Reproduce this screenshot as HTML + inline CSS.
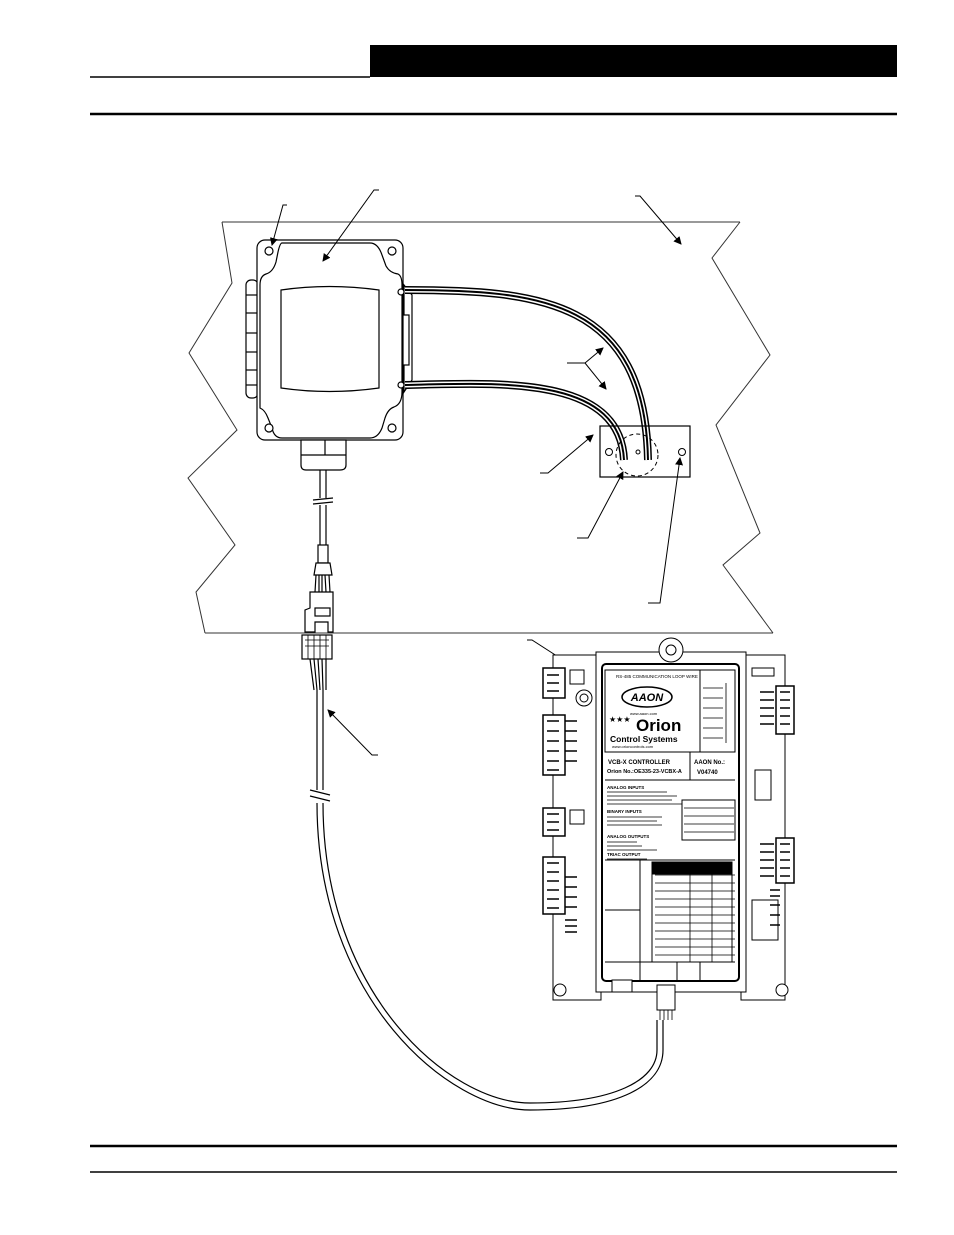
<!DOCTYPE html>
<html><head><style>
html,body{margin:0;padding:0;background:#fff;}
svg{display:block;}
text{font-family:"Liberation Sans",sans-serif;}
</style></head><body>
<svg width="954" height="1235" viewBox="0 0 954 1235" xmlns="http://www.w3.org/2000/svg">
<defs>
<marker id="ar" markerWidth="8" markerHeight="8" refX="7" refY="4" orient="auto" markerUnits="userSpaceOnUse"><path d="M0,0 L8,4 L0,8 z" fill="#000"/></marker>
</defs>
<rect x="370" y="45" width="527" height="32" fill="#000"/>
<line x1="90" y1="77" x2="370" y2="77" stroke="#000" stroke-width="1.5"/>
<line x1="90" y1="114" x2="897" y2="114" stroke="#000" stroke-width="2.5"/>
<line x1="90" y1="1146" x2="897" y2="1146" stroke="#000" stroke-width="2.5"/>
<line x1="90" y1="1172" x2="897" y2="1172" stroke="#000" stroke-width="1.5"/>

<g fill="none" stroke="#333" stroke-width="1">
<polyline points="222,222 740,222"/>
<polyline points="222,222 232,283 189,353 237,430 188,478 235,545 196,592 205,633"/>
<polyline points="205,633 773,633"/>
<polyline points="740,222 712,258 770,355 716,425 760,533 723,565 773,633"/>
</g>

<g fill="#fff" stroke="#000" stroke-width="1.2">
<rect x="246" y="280" width="12" height="118" rx="5"/>
<line x1="246" y1="295" x2="258" y2="295"/><line x1="246" y1="313" x2="258" y2="313"/><line x1="246" y1="333" x2="258" y2="333"/><line x1="246" y1="352" x2="258" y2="352"/><line x1="246" y1="370" x2="258" y2="370"/><line x1="246" y1="385" x2="258" y2="385"/>
<path d="M404,285 L412,295 L412,380 L404,392 z"/>
<rect x="400" y="315" width="9" height="50"/>
<rect x="257" y="240" width="146" height="200" rx="8"/>
<path d="M282,243 L370,243 Q378,243 382,255 L386,266 Q390,273 398,274 Q402,276 402,285 L402,392 Q402,404 394,407 Q388,409 385,418 L382,428 Q378,438 370,438 L282,438 Q274,438 272,428 L268,418 Q265,410 260,408 Q260,400 260,392 L260,285 Q260,276 266,274 Q273,272 276,262 L278,252 Q280,243 282,243 z"/>
<path d="M281,290 Q329,283 379,290 L379,388 Q329,395 281,388 z"/>
<circle cx="269" cy="251" r="4"/><circle cx="392" cy="251" r="4"/><circle cx="269" cy="428" r="4"/><circle cx="392" cy="428" r="4"/>
<circle cx="401" cy="292" r="3"/><circle cx="401" cy="385" r="3"/>
<path d="M301,440 L346,440 L346,465 Q346,470 340,470 L306,470 Q301,470 301,465 z"/>
<line x1="301" y1="455" x2="346" y2="455"/><line x1="325" y1="440" x2="325" y2="455"/>
</g>
<g fill="none">
<path d="M405,290 C540,290 645,300 648,460" stroke="#000" stroke-width="8"/>
<path d="M405,290 C540,290 645,300 648,460" stroke="#fff" stroke-width="5"/>
<path d="M405,290 C540,290 645,300 648,460" stroke="#000" stroke-width="2"/>
<path d="M405,385 C500,383 620,375 624,460" stroke="#000" stroke-width="8"/>
<path d="M405,385 C500,383 620,375 624,460" stroke="#fff" stroke-width="5"/>
<path d="M405,385 C500,383 620,375 624,460" stroke="#000" stroke-width="2"/>
</g>
<rect x="600" y="426" width="90" height="51" fill="none" stroke="#000" stroke-width="1.2"/>
<circle cx="637" cy="455" r="21" fill="none" stroke="#000" stroke-dasharray="4,3"/>
<circle cx="609" cy="452" r="3.5" fill="none" stroke="#000"/><circle cx="682" cy="452" r="3.5" fill="none" stroke="#000"/><circle cx="638" cy="452" r="2" fill="none" stroke="#000"/>

<g stroke="#000" fill="none" stroke-width="1">
<polyline points="287,205 283,205 272,245" marker-end="url(#ar)"/>
<polyline points="379,190 374,190 323,261" marker-end="url(#ar)"/>
<polyline points="635,196 640,196 681,244" marker-end="url(#ar)"/>
<polyline points="567,363 585,363 603,348" marker-end="url(#ar)"/>
<polyline points="585,363 606,389" marker-end="url(#ar)"/>
<polyline points="540,473 548,473 593,435" marker-end="url(#ar)"/>
<polyline points="577,538 588,538 623,472" marker-end="url(#ar)"/>
<polyline points="648,603 660,603 680,458" marker-end="url(#ar)"/>
<polyline points="527,640 532,640 560,658"/>
<line x1="560" y1="658" x2="617" y2="705" marker-end="url(#ar)"/>
<polyline points="378,755 372,755 328,710" marker-end="url(#ar)"/>
</g>

<g stroke="#000" fill="none" stroke-width="1.2">
<line x1="320" y1="470" x2="320" y2="498"/><line x1="326" y1="470" x2="326" y2="498"/>
<line x1="320" y1="505" x2="320" y2="545"/><line x1="326" y1="505" x2="326" y2="545"/>
<line x1="313" y1="500" x2="333" y2="498"/><line x1="313" y1="504" x2="333" y2="502"/>
<rect x="318" y="545" width="10" height="18" fill="#fff"/>
<path d="M316,563 L330,563 L332,575 L314,575 z" fill="#fff"/>
<path d="M316,575 L315,592 M319,575 L319,592 M322,575 L322,592 M325,575 L326,592 M329,575 L330,592"/>
<path d="M310,592 L333,592 L333,632 L328,632 L328,622 L315,622 L315,632 L305,632 L305,610 L310,608 z" fill="#fff"/>
<rect x="315" y="608" width="15" height="8"/>
<rect x="302" y="635" width="30" height="24" fill="#fff"/>
<path d="M305,640 L329,640 M305,646 L329,646 M308,635 L308,659 M314,635 L314,659 M320,635 L320,659 M326,635 L326,659" stroke-width="0.8"/>
<path d="M310,659 L314,690 M314,659 L317,690 M318,659 L320,690 M322,659 L323,690 M326,659 L326,690"/>
<line x1="317" y1="690" x2="317" y2="790"/><line x1="323" y1="690" x2="323" y2="790"/>
<line x1="310" y1="790" x2="330" y2="795" /><line x1="310" y1="796" x2="330" y2="801"/>
<path d="M317,803 C317,1000 450,1110 530,1110 C620,1110 663,1085 663,1050" />
<path d="M323,803 C323,995 450,1103 530,1103 C615,1103 657,1080 657,1050" />
<path d="M657,1050 L657,1020 M663,1050 L663,1020"/>
</g>

<g stroke="#000" fill="#fff" stroke-width="1">
<rect x="553" y="655" width="48" height="345"/>
<rect x="741" y="655" width="44" height="345"/>
<rect x="596" y="652" width="150" height="340"/>
<circle cx="671" cy="650" r="12"/><circle cx="671" cy="650" r="5"/>
<rect x="602" y="664" width="137" height="317" rx="4" stroke-width="2"/>
<rect x="605" y="670" width="130" height="82"/>
<line x1="700" y1="670" x2="700" y2="752"/>
<ellipse cx="647" cy="697" rx="25" ry="10" stroke-width="1.5"/>
<line x1="605" y1="752" x2="735" y2="752"/>
<line x1="605" y1="780" x2="735" y2="780"/>
<line x1="690" y1="752" x2="690" y2="780"/>
<line x1="605" y1="860" x2="735" y2="860"/>
<line x1="640" y1="860" x2="640" y2="980"/>
<rect x="682" y="800" width="53" height="40"/>
<rect x="652" y="862" width="80" height="100"/>
<rect x="652" y="862" width="80" height="12" fill="#000"/>
<line x1="605" y1="910" x2="640" y2="910"/>
<line x1="605" y1="962" x2="735" y2="962"/>
<line x1="677" y1="962" x2="677" y2="980"/><line x1="700" y1="962" x2="700" y2="980"/>
<rect x="543" y="668" width="22" height="30" stroke-width="1.5"/><rect x="543" y="715" width="22" height="60" stroke-width="1.5"/><rect x="543" y="808" width="22" height="28" stroke-width="1.5"/><rect x="543" y="857" width="22" height="57" stroke-width="1.5"/>
<rect x="776" y="686" width="18" height="48" stroke-width="1.5"/><rect x="776" y="838" width="18" height="45" stroke-width="1.5"/>
<rect x="570" y="670" width="14" height="14"/>
<circle cx="584" cy="698" r="8"/><circle cx="584" cy="698" r="4"/>
<rect x="570" y="810" width="14" height="14"/>
<circle cx="560" cy="990" r="6"/><circle cx="782" cy="990" r="6"/>
<rect x="612" y="980" width="20" height="12"/>
<rect x="657" y="985" width="18" height="25"/>
<rect x="752" y="668" width="22" height="8"/>
<rect x="755" y="770" width="16" height="30"/>
<rect x="752" y="900" width="26" height="40"/>
</g>
<g stroke="#000" stroke-width="1.5" fill="none">
<path d="M547,675 h12 M547,683 h12 M547,691 h12 M547,721 h12 M547,731 h12 M547,741 h12 M547,751 h12 M547,761 h12 M547,770 h12 M547,814 h12 M547,822 h12 M547,830 h12 M547,863 h12 M547,872 h12 M547,881 h12 M547,890 h12 M547,899 h12 M547,908 h12"/>
<path d="M565,721 h12 M565,731 h12 M565,741 h12 M565,751 h12 M565,761 h12 M565,877 h12 M565,887 h12 M565,897 h12 M565,907 h12 M565,920 h12 M565,926 h12 M565,932 h12"/>
<path d="M780,692 h10 M780,700 h10 M780,708 h10 M780,716 h10 M780,724 h10 M780,844 h10 M780,852 h10 M780,860 h10 M780,868 h10 M780,876 h10"/>
<path d="M760,692 h14 M760,700 h14 M760,708 h14 M760,716 h14 M760,724 h14 M760,844 h14 M760,852 h14 M760,860 h14 M760,868 h14 M760,876 h14 M770,890 h10 M770,896 h10 M770,905 h10 M770,915 h10 M770,925 h10"/>
</g>
<g stroke="#000" stroke-width="0.8" fill="none">
<path d="M660,1010 L660,1020 M664,1010 L664,1020 M668,1010 L668,1020 M672,1010 L672,1020"/>
<path d="M655,875 h80 M655,883 h80 M655,891 h80 M655,899 h80 M655,907 h80 M655,915 h80 M655,923 h80 M655,931 h80 M655,939 h80 M655,947 h80 M655,955 h80 M690,874 v88 M712,874 v88"/>
<path d="M684,808 h50 M684,816 h50 M684,824 h50 M684,832 h50"/>
<path d="M703,688 h20 M703,698 h20 M703,708 h20 M703,718 h20 M703,728 h20 M703,738 h20 M726,683 v60"/>
<path d="M607,792 h60 M607,796 h70 M607,800 h65 M607,804 h75 M607,817 h55 M607,821 h50 M607,825 h55 M607,842 h30 M607,846 h35 M607,850 h50 M607,859 h40"/>
</g>
<g font-size="4.5" fill="#000">
<text x="616" y="678">RS-485 COMMUNICATION LOOP WIRE</text>
<text x="630" y="715" font-size="4">www.aaon.com</text>
<text x="612" y="748" font-size="4">www.orioncontrols.com</text>
<text x="607" y="789" font-weight="bold">ANALOG INPUTS</text>
<text x="607" y="813" font-weight="bold">BINARY INPUTS</text>
<text x="607" y="838" font-weight="bold">ANALOG OUTPUTS</text>
<text x="607" y="856" font-weight="bold">TRIAC OUTPUT</text>
</g>
<text x="647" y="701" font-size="11" font-weight="bold" font-style="italic" text-anchor="middle">AAON</text>
<text x="609" y="722" font-size="8">★★★</text>
<text x="636" y="731" font-size="17" font-weight="bold">Orion</text>
<text x="610" y="742" font-size="8.5" font-weight="bold">Control Systems</text>
<text x="608" y="764" font-size="6" font-weight="bold">VCB-X CONTROLLER</text>
<text x="607" y="773" font-size="5.5" font-weight="bold">Orion No.:OE335-23-VCBX-A</text>
<text x="694" y="764" font-size="6" font-weight="bold">AAON No.:</text>
<text x="697" y="774" font-size="6" font-weight="bold">V04740</text>
</svg>
</body></html>
